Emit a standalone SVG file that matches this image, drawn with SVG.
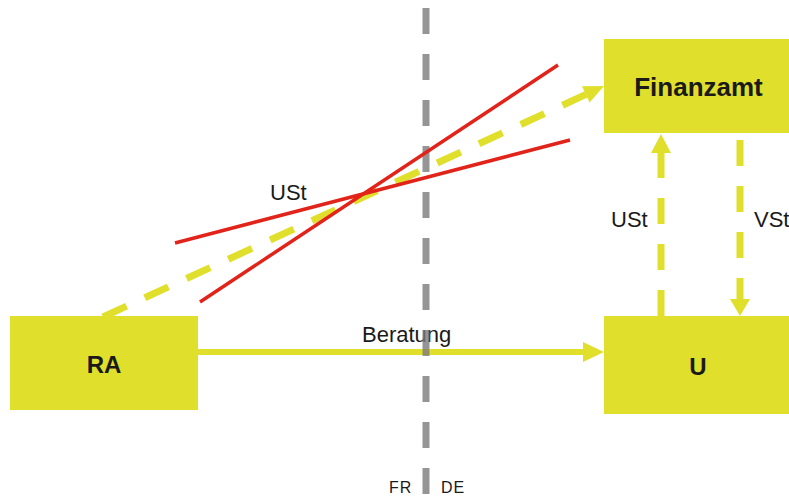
<svg xmlns="http://www.w3.org/2000/svg" width="789" height="499" viewBox="0 0 789 499">
<style>
.box{fill:#e0e02c}
.lbl{font-family:"Liberation Sans",Arial,sans-serif;font-size:22px;fill:#1a1a1a}
.bold{font-family:"Liberation Sans",Arial,sans-serif;font-weight:bold;fill:#1a1a1a}
.dash{stroke:#e0e02c;stroke-width:7;stroke-dasharray:26 20;fill:none}
.head{fill:#e0e02c}
.red{stroke:#e2231a;stroke-width:3.5;fill:none}
.cty{font-family:"Liberation Sans",Arial,sans-serif;font-size:16px;letter-spacing:1px;fill:#1a1a1a}
</style>
<rect width="789" height="499" fill="#ffffff"/>
<g id="RA">
<rect class="box" x="10" y="316" width="188" height="94"/>
<text class="bold" x="104" y="373" font-size="24" text-anchor="middle">RA</text>
</g>
<g id="Finanzamt">
<rect class="box" x="604" y="39" width="185" height="94"/>
<text class="bold" x="698.5" y="96" font-size="26" text-anchor="middle">Finanzamt</text>
</g>
<g id="U">
<rect class="box" x="604" y="316" width="185" height="98"/>
<text class="bold" x="698" y="375" font-size="24" text-anchor="middle">U</text>
</g>
<g id="connectors">
<line x1="198" y1="352" x2="584" y2="352" stroke="#e0e02c" stroke-width="6"/>
<polygon class="head" points="604,352 583,342 583,362"/>
<line class="dash" x1="103" y1="317" x2="586" y2="94.4"/>
<polygon class="head" points="604,86 589.6,102.6 582,86.2"/>
<line class="dash" x1="661" y1="316" x2="661" y2="153" stroke-dasharray="22 20 26 20 26 20 26 20"/>
<polygon class="head" points="661,134 651,153 671,153"/>
<line class="dash" x1="740" y1="140" x2="740" y2="300"/>
<polygon class="head" points="740,316 730,299 750,299"/>
</g>
<text class="lbl" x="362" y="342" font-size="22.5">Beratung</text>
<text class="lbl" x="270" y="200">USt</text>
<text class="lbl" x="611" y="227">USt</text>
<text class="lbl" x="754" y="227">VSt</text>
<g id="border">
<line x1="426" y1="8" x2="426" y2="494" stroke="#7a7a7a" stroke-opacity="0.8" stroke-width="7" stroke-dasharray="26 20"/>
<text class="cty" x="389" y="493">FR</text>
<text class="cty" x="441" y="493">DE</text>
</g>
<g id="crossed">
<line class="red" x1="200" y1="302" x2="558" y2="65"/>
<line class="red" x1="175" y1="243" x2="570" y2="140"/>
</g>
</svg>
